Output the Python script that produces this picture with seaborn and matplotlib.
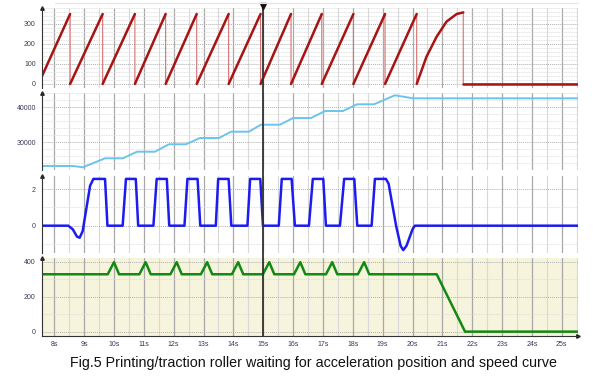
import numpy as np
import pandas as pd
import matplotlib
matplotlib.use("Agg")
import matplotlib.pyplot as plt
import seaborn as sns
from matplotlib.lines import Line2D
from matplotlib.ticker import MultipleLocator, FuncFormatter
import matplotlib.transforms as mtransforms

# ---------------- data ----------------
# panel 1: position sawtooth (deg)
saw_t = [7.59, 8.53, 8.53, 9.62, 9.62, 10.70, 10.70, 11.73, 11.73, 12.77, 12.77,
         13.84, 13.84, 14.91, 14.91, 15.93, 15.93, 16.96, 16.96, 18.02, 18.02,
         19.08, 19.08, 20.14, 20.14, 20.47, 20.81, 21.14, 21.48, 21.70, 21.70, 25.54]
saw_v = [40, 350, 0, 350, 0, 350, 0, 350, 0, 350, 0,
         350, 0, 350, 0, 350, 0, 350, 0, 350, 0,
         350, 0, 350, 0, 137, 237, 312, 350, 358, 0, 0]

# panel 2: position count (light blue steps)
pos_t = [7.59, 8.63, 8.96, 9.70, 10.30, 10.77, 11.37, 11.84, 12.41, 12.88, 13.52,
         13.92, 14.52, 14.92, 15.56, 16.00, 16.60, 17.07, 17.67, 18.14, 18.71,
         19.41, 20.02, 25.54]
pos_v = [23230, 23230, 22860, 25430, 25430, 27310, 27310, 29430, 29430, 31230, 31230,
         33030, 33030, 35030, 35030, 36940, 36940, 38940, 38940, 40860, 40860,
         43430, 42570, 42570]

# panel 3: acceleration pulses (blue)
acc_t = [7.59, 8.47, 8.62, 8.76, 8.85, 8.95, 9.20, 9.31, 9.70, 9.78,
         10.29, 10.40, 10.73, 10.81, 11.32, 11.43, 11.77, 11.85,
         12.36, 12.46, 12.80, 12.89, 13.41, 13.49, 13.84, 13.93,
         14.47, 14.56, 14.90, 14.99, 15.52, 15.62, 15.95, 16.06,
         16.53, 16.66, 17.01, 17.10, 17.57, 17.71, 18.05, 18.15,
         18.63, 18.74, 19.11, 19.20, 19.45, 19.60, 19.69, 19.80, 20.00, 20.08, 25.54]
acc_v = [0, 0, -0.2, -0.6, -0.66, -0.3, 2.2, 2.57, 2.57, 0,
         0, 2.57, 2.57, 0, 0, 2.57, 2.57, 0,
         0, 2.57, 2.57, 0, 0, 2.57, 2.57, 0,
         0, 2.57, 2.57, 0, 0, 2.57, 2.57, 0,
         0, 2.57, 2.57, 0, 0, 2.57, 2.57, 0,
         0, 2.57, 2.57, 2.3, 0, -1.1, -1.34, -1.1, -0.2, 0, 0]

# panel 4: speed (green)
spd_t = [7.59, 9.79, 10.00, 10.17, 10.85, 11.06, 11.23, 11.89, 12.10, 12.27,
         12.91, 13.12, 13.29, 13.95, 14.16, 14.33, 14.99, 15.20, 15.37,
         16.03, 16.24, 16.41, 17.10, 17.31, 17.48, 18.17, 18.38, 18.55,
         20.81, 21.76, 25.54]
spd_v = [328, 328, 397, 328, 328, 397, 328, 328, 397, 328,
         328, 397, 328, 328, 397, 328, 328, 397, 328,
         328, 397, 328, 328, 397, 328, 328, 397, 328,
         328, 0, 0]

x_ticks = list(range(8, 26))
x_labels = [f"{s}s" for s in x_ticks]
cursor_t = 15.0
title = "Fig.5 Printing/traction roller waiting for acceleration position and speed curve"

# ---------------- style ----------------
sns.set_style("white")
plt.rcParams['font.family'] = ['Liberation Sans', 'DejaVu Sans']

W, H = 600, 377
fig = plt.figure(figsize=(6.0, 3.77), dpi=100)

def px_axes(left, top, right, bottom):
    return fig.add_axes([left / W, 1 - bottom / H, (right - left) / W, (bottom - top) / H])

xlim = (7.588, 25.544)
ax1 = px_axes(42, 8, 578, 88)
ax2 = px_axes(42, 93, 578, 170)
ax3 = px_axes(42, 176, 578, 253)
ax4 = px_axes(42, 258, 578, 336)
axes = [ax1, ax2, ax3, ax4]

tick_col = '#3a3a5a'

def style(ax, ylim, major, minor, last=False):
    ax.set_xlim(*xlim)
    ax.set_ylim(*ylim)
    ax.xaxis.set_major_locator(MultipleLocator(1))
    ax.xaxis.set_minor_locator(MultipleLocator(0.5))
    ax.yaxis.set_major_locator(MultipleLocator(major))
    ax.yaxis.set_minor_locator(MultipleLocator(minor))
    ax.grid(which='major', axis='x', color='#a8a8a8', lw=0.9, ls='-')
    ax.grid(which='minor', axis='x', color='#d8d8d8', lw=0.8, ls='-')
    ax.grid(which='major', axis='y', color='#b0b0b0', lw=0.7, ls=(0, (1, 1)))
    ax.grid(which='minor', axis='y', color='#d8d8d8', lw=0.6, ls=(0, (1, 1)))
    ax.set_axisbelow(True)
    for s in ['top', 'right']:
        ax.spines[s].set_visible(False)
    ax.spines['left'].set_color('#333333')
    ax.spines['left'].set_linewidth(0.8)
    ax.tick_params(axis='y', which='major', length=3, width=0.6, color='#333333',
                   labelsize=5, labelcolor=tick_col, pad=1.5)
    ax.tick_params(axis='y', which='minor', length=1.5, width=0.5, color='#555555')
    if last:
        ax.spines['bottom'].set_color('#333333')
        ax.spines['bottom'].set_linewidth(0.8)
        ax.set_xticks(x_ticks)
        ax.set_xticklabels(x_labels)
        ax.tick_params(axis='x', which='major', length=2, width=0.6, color='#333333',
                       labelsize=5, labelcolor=tick_col, pad=1.5)
        ax.tick_params(axis='x', which='minor', length=2, width=0.6, color='#333333')
        ax.plot(1, 0, '>', color='#222222', ms=2.5, transform=ax.transAxes, clip_on=False)
    else:
        ax.spines['bottom'].set_visible(False)
        ax.tick_params(axis='x', which='both', length=0, labelbottom=False)
    ax.plot(0, 1, '^', color='#222222', ms=2.5, transform=ax.transAxes, clip_on=False)
    ax.set_xlabel('')
    ax.set_ylabel('')

# panel 1: thin drops + thick ramps
df1 = pd.DataFrame({'t': saw_t, 'v': saw_v})
sns.lineplot(data=df1, x='t', y='v', ax=ax1, color='#d87070', lw=0.8, sort=False, estimator=None)
seg = []
sid = 0
for i in range(len(saw_t)):
    if i > 0 and saw_t[i] == saw_t[i - 1]:
        sid += 1
    seg.append(sid)
df1['seg'] = seg
sns.lineplot(data=df1, x='t', y='v', units='seg', estimator=None, ax=ax1,
             color='#a81414', lw=1.8, sort=False)
style(ax1, (-20, 380), 100, 20)
ax1.yaxis.set_major_formatter(FuncFormatter(lambda v, p: f"{int(v)}"))

df2 = pd.DataFrame({'t': pos_t, 'v': pos_v})
sns.lineplot(data=df2, x='t', y='v', ax=ax2, color='#6cc4ec', lw=1.4, sort=False, estimator=None)
style(ax2, (22086, 44086), 10000, 2000)

df3 = pd.DataFrame({'t': acc_t, 'v': acc_v})
sns.lineplot(data=df3, x='t', y='v', ax=ax3, color='#1c1cf0', lw=1.8, sort=False, estimator=None)
style(ax3, (-1.5, 2.73), 2, 1)

ax4.set_facecolor('#f6f4dc')
df4 = pd.DataFrame({'t': spd_t, 'v': spd_v})
sns.lineplot(data=df4, x='t', y='v', ax=ax4, color='#118a11', lw=1.8, sort=False, estimator=None)
style(ax4, (-25, 421), 200, 100, last=True)

# cursor line across all panels
tr = mtransforms.blended_transform_factory(ax1.transData, fig.transFigure)
fig.add_artist(Line2D([cursor_t, cursor_t], [1 - 4 / H, 1 - 336 / H], transform=tr,
                      color='#333333', lw=1.3))
fig.add_artist(Line2D([cursor_t], [1 - 6 / H], transform=tr, marker='v', color='#111111',
                      ms=5, ls='none'))

# faint top frame line
fig.add_artist(Line2D([55 / W, 578 / W], [1 - 3 / H, 1 - 3 / H], color='#e4e4e4', lw=0.8))

fig.text(314 / W, 1 - 363 / H, title, ha='center', va='center', fontsize=10.3, color='#111111')

fig.savefig('out.png', dpi=100)
